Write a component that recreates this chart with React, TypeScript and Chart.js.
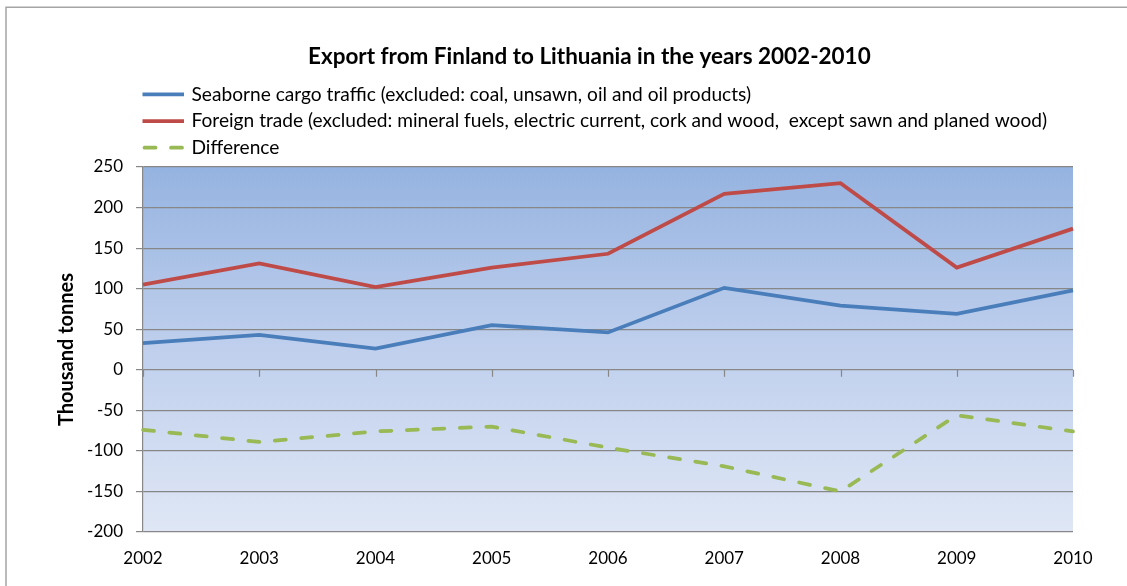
import React, { useEffect, useRef } from 'react';
import { Chart, registerables } from 'chart.js';

Chart.register(...registerables);

// ---- data ----
const years = ['2002', '2003', '2004', '2005', '2006', '2007', '2008', '2009', '2010'];
const seaborneCargo = [33, 43, 26, 55, 46, 101, 79, 69, 98];
const foreignTrade = [105, 131, 102, 126, 143, 217, 230, 126, 174];
const difference = [-74, -89, -76, -70, -96, -119, -150, -56, -76];
const seriesNames = [
  'Seaborne cargo traffic (excluded: coal, unsawn, oil and oil products)',
  'Foreign trade (excluded: mineral fuels, electric current, cork and wood,  except sawn and planed wood)',
  'Difference',
];
const chartTitle = 'Export from Finland to Lithuania in the years 2002-2010';
const yAxisTitle = 'Thousand tonnes';
const yMin = -200;
const yMax = 250;
const yStep = 50;

const FONT = 'Lato, "Open Sans", "DejaVu Sans", sans-serif';
const GRID = '#878787';

const decorPlugin = {
  id: 'decor',
  beforeDraw(chart: any) {
    const { ctx, chartArea: a } = chart;
    ctx.save();
    ctx.fillStyle = '#ffffff';
    ctx.fillRect(0, 0, chart.width, chart.height);
    // outer chart frame
    ctx.strokeStyle = '#a5a5a5';
    ctx.lineWidth = 1.5;
    ctx.strokeRect(6, 7.25, chart.width + 40, chart.height + 40);
    // plot area gradient
    const g = ctx.createLinearGradient(0, a.top, 0, a.bottom);
    g.addColorStop(0, '#95b3e0');
    g.addColorStop(0.45, '#bccdec');
    g.addColorStop(1, '#dfe7f5');
    ctx.fillStyle = g;
    ctx.fillRect(a.left, a.top, a.right - a.left, a.bottom - a.top);
    ctx.restore();
  },
  beforeDatasetsDraw(chart: any) {
    // category tick marks hanging below the zero line
    const { ctx } = chart;
    const xs = chart.scales.x;
    const ys = chart.scales.y;
    const y0 = ys.getPixelForValue(0);
    ctx.save();
    ctx.strokeStyle = GRID;
    ctx.lineWidth = 1.2;
    ctx.beginPath();
    xs.ticks.forEach((_: any, i: number) => {
      const px = Math.round(xs.getPixelForTick(i)) + 0.5;
      ctx.moveTo(px, y0);
      ctx.lineTo(px, y0 + 7);
    });
    ctx.stroke();
    ctx.restore();
  },
  afterDraw(chart: any) {
    const { ctx } = chart;
    ctx.save();
    // title
    ctx.font = `bold 100px ${FONT}`;
    const tw = ctx.measureText(chartTitle).width;
    const tSize = (100 * 563) / tw;
    ctx.font = `bold ${tSize}px ${FONT}`;
    ctx.fillStyle = '#000000';
    ctx.textAlign = 'left';
    ctx.textBaseline = 'alphabetic';
    ctx.fillText(chartTitle, 308, 64);

    // legend
    ctx.font = `100px ${FONT}`;
    const lw = ctx.measureText(seriesNames[0]).width;
    const lSize = (100 * 560) / lw;
    ctx.font = `${lSize}px ${FONT}`;
    const lineYs = [94.3, 121, 147.7];
    const baseYs = [100.5, 127, 154];
    chart.data.datasets.forEach((ds: any, i: number) => {
      ctx.save();
      ctx.strokeStyle = ds.borderColor;
      ctx.lineWidth = ds.borderWidth;
      if (ds.borderDash) {
        ctx.setLineDash(ds.borderDash);
        ctx.lineCap = 'round';
        ctx.beginPath();
        ctx.moveTo(144.5, lineYs[i]);
        ctx.lineTo(182.5, lineYs[i]);
        ctx.stroke();
      } else {
        ctx.lineCap = 'butt';
        ctx.beginPath();
        ctx.moveTo(142.5, lineYs[i]);
        ctx.lineTo(184, lineYs[i]);
        ctx.stroke();
      }
      ctx.restore();
      ctx.fillStyle = '#000000';
      ctx.fillText(ds.label, 191.5, baseYs[i]);
    });
    ctx.restore();
  },
};

export default function App() {
  const ref = useRef<HTMLCanvasElement>(null);

  useEffect(() => {
    document.body.style.margin = '0';
    document.body.style.overflow = 'hidden';
    const chart = new Chart(ref.current!, {
      type: 'line',
      data: {
        labels: years,
        datasets: [
          {
            label: seriesNames[0],
            data: seaborneCargo,
            borderColor: '#4a7ebb',
            backgroundColor: '#4a7ebb',
            borderWidth: 3.75,
            pointRadius: 0,
            tension: 0,
            fill: false,
          },
          {
            label: seriesNames[1],
            data: foreignTrade,
            borderColor: '#be4b48',
            backgroundColor: '#be4b48',
            borderWidth: 3.75,
            pointRadius: 0,
            tension: 0,
            fill: false,
          },
          {
            label: seriesNames[2],
            data: difference,
            borderColor: '#98b954',
            backgroundColor: '#98b954',
            borderWidth: 3.75,
            borderDash: [11, 15.5],
            borderCapStyle: 'round',
            pointRadius: 0,
            tension: 0,
            fill: false,
          },
        ],
      },
      options: {
        responsive: false,
        animation: false,
        layout: { padding: { top: 167, left: 0, right: 54, bottom: 0 } },
        plugins: {
          legend: { display: false },
          title: { display: false },
          tooltip: { enabled: false },
        },
        scales: {
          x: {
            type: 'category',
            offset: false,
            grid: { display: false, drawTicks: false },
            border: { display: false },
            ticks: {
              color: '#000000',
              font: { family: FONT, size: 17 },
              padding: 16,
              maxRotation: 0,
              autoSkip: false,
            },
            afterFit(scale: any) {
              scale.height = 54;
            },
          },
          y: {
            min: yMin,
            max: yMax,
            ticks: {
              stepSize: yStep,
              color: '#000000',
              font: { family: FONT, size: 17 },
              padding: 13,
            },
            grid: { color: GRID, lineWidth: 1.2, tickLength: 7, drawTicks: true },
            border: { display: true, color: GRID, width: 1.2 },
            title: {
              display: true,
              text: yAxisTitle,
              color: '#000000',
              font: { family: FONT, size: 20, weight: 'bold' },
              padding: { top: 55, bottom: 0 },
            },
            afterFit(scale: any) {
              scale.width = 143;
            },
          },
        },
      },
      plugins: [decorPlugin],
    } as any);
    return () => chart.destroy();
  }, []);

  return (
    <div style={{ width: 1127, height: 586, position: 'relative' }}>
      <canvas ref={ref} width={1127} height={586} style={{ display: 'block' }} />
    </div>
  );
}
